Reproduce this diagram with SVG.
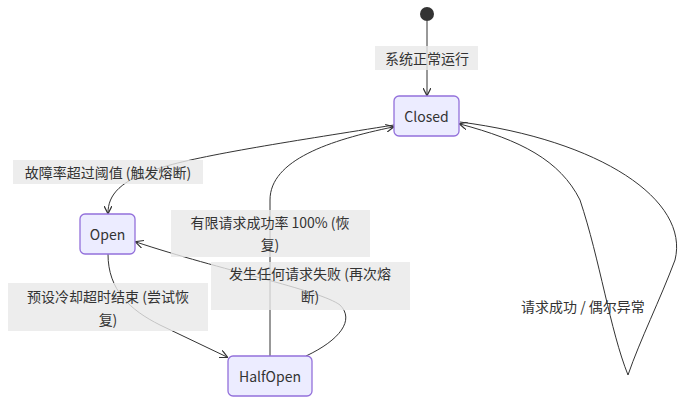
<svg xmlns="http://www.w3.org/2000/svg" width="683" height="404" viewBox="0 0 683 404">
<style>
.n rect{fill:#ececff;stroke:#9370db;stroke-width:1.3}
text{font-family:"Noto Sans CJK SC","Noto Sans",sans-serif;font-size:14px;fill:#333;text-anchor:middle;dominant-baseline:central}
.e path{fill:none;stroke:#333;stroke-width:1}
.lb{fill:#e8e8e8;opacity:0.8}
</style>
<defs><marker id="a" viewBox="0 0 10 10" refX="9" refY="5" markerWidth="8" markerHeight="8" orient="auto-start-reverse"><path d="M0,0L10,5L0,10" fill="none" stroke="#333" stroke-width="1.5"/></marker></defs>
<rect width="683" height="404" fill="#fff"/>
<g class="e">
<path d="M427,21L427,95" marker-end="url(#a)"/>
<path d="M394,125C300,140 200,155 160,168C120,180 108,195 108,213" marker-end="url(#a)"/>
<path d="M108,254C108,290 130,310 160,325L227,357" marker-end="url(#a)"/>
<path d="M270,356L270,200C270,160 330,140 393,127" marker-end="url(#a)"/>
<path d="M306,356C340,340 355,320 340,305C320,290 220,270 136,242" marker-end="url(#a)"/>
<path d="M628,375C610,330 600,260 580,200C560,160 520,140 460,124" marker-end="url(#a)"/>
<path d="M628,375C640,340 660,300 675,260C690,200 600,140 460,122"/>
</g>
<g id="start"><circle cx="427" cy="14" r="7" fill="#333"/></g>
<g id="Closed" class="n"><rect x="394" y="96" width="65" height="40" rx="5"/><text x="426.5" y="116">Closed</text></g>
<g id="Open" class="n"><rect x="80" y="214" width="55" height="40" rx="5"/><text x="107.5" y="234">Open</text></g>
<g id="HalfOpen" class="n"><rect x="228" y="356" width="84" height="40" rx="5"/><text x="270" y="376">HalfOpen</text></g>
<g id="labels">
<rect class="lb" x="375" y="46" width="103" height="24"/><text x="427" y="58">系统正常运行</text>
<rect class="lb" x="13" y="160" width="190" height="24"/><text x="108" y="172">故障率超过阈值 (触发熔断)</text>
<rect class="lb" x="171" y="210" width="199" height="47"/><text x="270" y="222">有限请求成功率 100% (恢</text><text x="270" y="244">复)</text>
<rect class="lb" x="211" y="262" width="199" height="48"/><text x="310" y="273">发生任何请求失败 (再次熔</text><text x="310" y="296">断)</text>
<rect class="lb" x="8" y="283" width="200" height="48"/><text x="108" y="296">预设冷却超时结束 (尝试恢</text><text x="108" y="319">复)</text>
<text x="583" y="306">请求成功 / 偶尔异常</text>
</g>
</svg>
